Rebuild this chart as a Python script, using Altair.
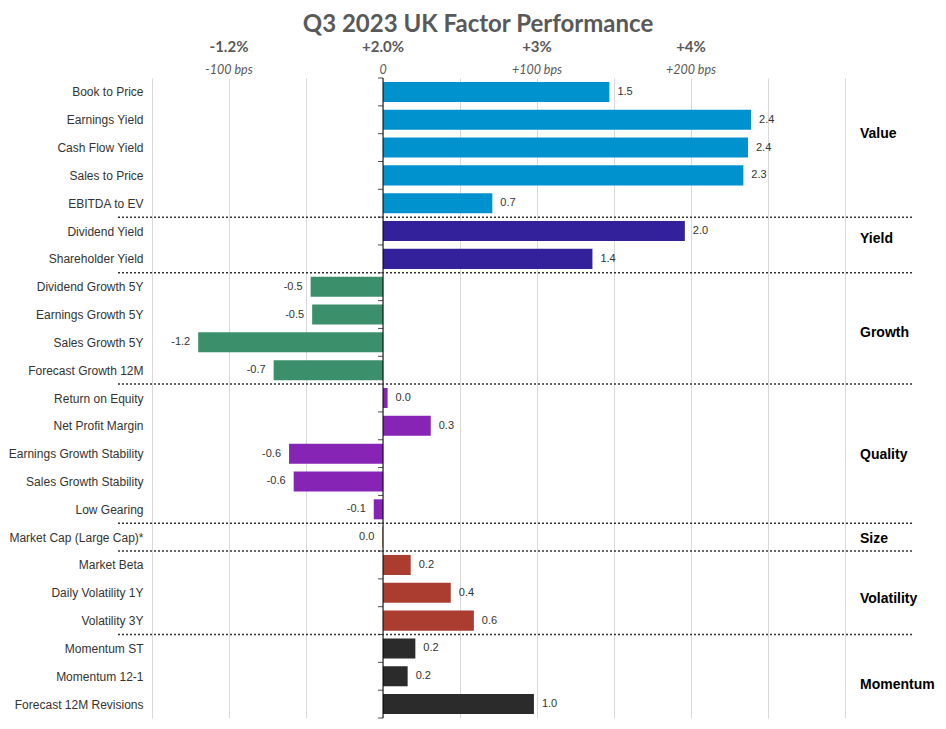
import json
import altair as alt
import pandas as pd

factors = [
    "Book to Price", "Earnings Yield", "Cash Flow Yield", "Sales to Price", "EBITDA to EV",
    "Dividend Yield", "Shareholder Yield",
    "Dividend Growth 5Y", "Earnings Growth 5Y", "Sales Growth 5Y", "Forecast Growth 12M",
    "Return on Equity", "Net Profit Margin", "Earnings Growth Stability", "Sales Growth Stability", "Low Gearing",
    "Market Cap (Large Cap)*",
    "Market Beta", "Daily Volatility 1Y", "Volatility 3Y",
    "Momentum ST", "Momentum 12-1", "Forecast 12M Revisions",
]
values = [1.47, 2.39, 2.37, 2.34, 0.71,
          1.96, 1.36,
          -0.47, -0.46, -1.20, -0.71,
          0.03, 0.31, -0.61, -0.58, -0.06,
          -0.004,
          0.18, 0.44, 0.59,
          0.21, 0.16, 0.98]
groups = (["Value"] * 5 + ["Yield"] * 2 + ["Growth"] * 4 + ["Quality"] * 5
          + ["Size"] + ["Volatility"] * 3 + ["Momentum"] * 3)
group_order = ["Value", "Yield", "Growth", "Quality", "Size", "Volatility", "Momentum"]
group_colors = ["#0092CF", "#33219B", "#3B8F6B", "#8624B6", "#9C6B30", "#AA3D30", "#2B2B2B"]
group_label_shift = [-0.5, -0.2, 0.15, 0.05, 0.05, 0.22, 0.32]

title_text = "Q3 2023 UK Factor Performance"
tick_values = [-1, 0, 1, 2]
pct_labels = ["-1.2%", "+2.0%", "+3%", "+4%"]
bps_labels = ["-100 bps", "0", "+100 bps", "+200 bps"]
grid_values = [-1.5, -1.0, -0.5, 0.0, 0.5, 1.0, 1.5, 2.0, 2.5, 3.0]

# ---- tables built from the lists ----
def fmt(v):
    s = f"{v:.1f}"
    return "0.0" if s == "-0.0" else s

df = pd.DataFrame({"factor": factors, "value": values, "group": groups})
df["idx"] = range(len(df))
df["y0"] = df["idx"] - 0.36
df["y1"] = df["idx"] + 0.36
df["label"] = [fmt(v) for v in values]

bounds = pd.DataFrame({"b": [i - 0.5 for i in range(len(factors) + 1)]})
seps = pd.DataFrame({"s": [i + 0.5 for i in range(len(groups) - 1) if groups[i] != groups[i + 1]]})
glab = df.groupby("group", sort=False)["idx"].mean().reindex(group_order).reset_index()
glab["pos"] = glab["idx"] + group_label_shift
top = pd.DataFrame({"tv": tick_values, "pct": pct_labels, "bps": bps_labels})
ttl = pd.DataFrame({"t": [title_text]})

yscale = alt.Scale(domain=[-0.5, len(factors) - 0.5], reverse=True, nice=False, zero=False)
xscale = alt.Scale(domain=[-1.5, 3.0], nice=False, zero=False)
label_expr = json.dumps(factors) + "[datum.value]"
color = alt.Color("group:N", scale=alt.Scale(domain=group_order, range=group_colors), legend=None)

yaxis = alt.Axis(values=list(range(len(factors))), labelExpr=label_expr, title=None,
                 domain=False, ticks=False, tickSize=0, grid=False, labelPadding=9,
                 labelFont="Liberation Sans", labelFontSize=12, labelColor="#333333",
                 labelOverlap=False, labelBound=False)
xaxis = alt.Axis(orient="top", values=grid_values, grid=True, gridColor="#d9d9d9",
                 gridWidth=1, labels=False, ticks=False, domain=False, title=None)


def Y(field):
    return alt.Y(field, scale=yscale, axis=yaxis, title=None)


def X(field):
    return alt.X(field, scale=xscale, axis=xaxis, title=None)


bars = alt.Chart(df).mark_bar().encode(
    x=X("value:Q"),
    x2=alt.datum(0),
    y=Y("y0:Q"),
    y2="y1:Q",
    color=color,
)

zero = alt.Chart(pd.DataFrame({"z": [0]})).mark_rule(color="black", strokeWidth=1).encode(
    x=X("z:Q")
)
ticks = alt.Chart(bounds).mark_tick(orient="horizontal", size=5, thickness=1, xOffset=-2.5,
                                    color="black").encode(
    x=alt.datum(0),
    y=Y("b:Q"),
)
sep = alt.Chart(seps).mark_rule(strokeDash=[2, 2], strokeWidth=1.5, color="#333333").encode(
    y=Y("s:Q"),
    x=alt.value(-34), x2=alt.value(760),
)
pos_lab = alt.Chart(df).transform_filter("datum.value >= 0").mark_text(
    align="left", baseline="middle", dx=8, font="Liberation Sans", fontSize=11, color="#333333"
).encode(x=X("value:Q"), y=Y("idx:Q"), text="label:N")
neg_lab = alt.Chart(df).transform_filter("datum.value < 0").mark_text(
    align="right", baseline="middle", dx=-8, font="Liberation Sans", fontSize=11, color="#333333"
).encode(x=X("value:Q"), y=Y("idx:Q"), text="label:N")
grp = alt.Chart(glab).mark_text(
    align="left", baseline="middle", font="Liberation Sans", fontSize=14, fontWeight="bold", color="black"
).encode(x=alt.value(708), y=Y("pos:Q"), text="group:N")
pct = alt.Chart(top).mark_text(
    align="center", baseline="middle", font="Lato", fontSize=15, fontWeight="bold", color="#595959"
).encode(x=X("tv:Q"), y=alt.value(-31), text="pct:N")
bps = alt.Chart(top).mark_text(
    align="center", baseline="middle", font="Lato", fontSize=12.5, fontStyle="italic", color="#595959"
).encode(x=X("tv:Q"), y=alt.value(-8), text="bps:N")
title = alt.Chart(ttl).mark_text(
    align="center", baseline="middle", font="Lato", fontSize=24, fontWeight="bold", color="#595959"
).encode(x=alt.value(326), y=alt.value(-53), text="t:N")

chart = alt.layer(bars, zero, ticks, sep, pos_lab, neg_lab, grp, pct, bps, title).properties(
    width=693,
    height=640,
    padding={"left": 144, "top": 70, "right": 93, "bottom": 3},
    autosize=alt.AutoSizeParams(type="none"),
).configure_view(strokeWidth=0)

chart.save("out.html", embed_options={"renderer": "svg", "actions": False})
